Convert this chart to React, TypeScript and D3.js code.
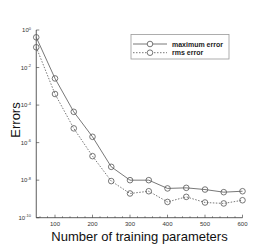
import React from "react";
import * as d3 from "d3";

const params = [50, 100, 150, 200, 250, 300, 350, 400, 450, 500, 550, 600];
const maxErrorExp = [-0.39, -2.58, -4.36, -5.69, -7.29, -8.0, -8.0, -8.44, -8.41, -8.5, -8.64, -8.59];
const rmsErrorExp = [-0.92, -3.41, -5.24, -6.72, -8.05, -8.71, -8.59, -9.16, -8.89, -9.19, -9.24, -9.07];
const xTicks = [100, 200, 300, 400, 500, 600];
const yTickExps = [0, -2, -4, -6, -8, -10];
const seriesNames = ["maximum error", "rms error"];

export default function App() {
  const W = 277, H = 246;
  const x = d3.scaleLinear().domain([50, 600]).range([36.25, 242.5]);
  const y = d3.scaleLog().domain([1e-10, 1]).range([217.7, 30]);
  const maxData = params.map((p, i) => [p, Math.pow(10, maxErrorExp[i])] as [number, number]);
  const rmsData = params.map((p, i) => [p, Math.pow(10, rmsErrorExp[i])] as [number, number]);
  const line = d3.line<[number, number]>().x(d => x(d[0])).y(d => y(d[1]));
  const minorX = d3.range(60, 600, 20).filter(v => v % 100 !== 0);
  const col = "#555";
  const series = [
    { data: maxData, dash: undefined as string | undefined },
    { data: rmsData, dash: "1.5,1.5" },
  ];
  const y0 = y(1e-10);
  return (
    <svg width={W} height={H} style={{ position: "absolute", left: 0, top: 0, background: "#fff" }}
      fontFamily="Liberation Sans, Arial, sans-serif">
      {/* axes */}
      <line x1={x(50)} x2={x(600)} y1={y0} y2={y0} stroke="#333" strokeWidth={0.8} />
      <line x1={x(50)} x2={x(50)} y1={y(1)} y2={y0} stroke="#333" strokeWidth={0.8} />
      {xTicks.map(t => (
        <g key={t}>
          <line x1={x(t)} x2={x(t)} y1={y0} y2={y0 - 3} stroke="#333" strokeWidth={0.6} />
          <text x={x(t)} y={y0 + 8.5} fontSize={6} textAnchor="middle" fill="#333">{t}</text>
        </g>
      ))}
      {minorX.map(t => (
        <line key={t} x1={x(t)} x2={x(t)} y1={y0} y2={y0 - 1.5} stroke="#333" strokeWidth={0.5} />
      ))}
      {yTickExps.map(e => (
        <g key={e}>
          <line x1={x(50)} x2={x(50) + 3} y1={y(Math.pow(10, e))} y2={y(Math.pow(10, e))} stroke="#333" strokeWidth={0.6} />
          <text x={31} y={y(Math.pow(10, e)) + 2} fontSize={6} textAnchor="end" fill="#333">
            10<tspan fontSize={4} dy={-2.5}>{e}</tspan>
          </text>
        </g>
      ))}
      {/* series */}
      {series.map((s, i) => (
        <g key={i}>
          <path d={line(s.data) || ""} fill="none" stroke={col} strokeWidth={0.8} strokeDasharray={s.dash} />
          {s.data.map((d, j) => (
            <circle key={j} cx={x(d[0])} cy={y(d[1])} r={2.8} fill="none" stroke={col} strokeWidth={0.8} />
          ))}
        </g>
      ))}
      {/* legend */}
      <rect x={131} y={34.5} width={98} height={24.5} fill="#fff" stroke="#999" strokeWidth={0.8} />
      {seriesNames.map((n, i) => {
        const ly = 44 + i * 8.7;
        return (
          <g key={n}>
            <line x1={133} x2={167} y1={ly} y2={ly} stroke={col} strokeWidth={0.8} strokeDasharray={series[i].dash} />
            <circle cx={150} cy={ly} r={2.8} fill="#fff" stroke={col} strokeWidth={0.8} />
            <text x={172} y={ly + 2.5} fontSize={7} fontWeight="bold" fill="#222">{n}</text>
          </g>
        );
      })}
      {/* axis titles */}
      <text x={139.5} y={240.5} fontSize={13} textAnchor="middle" fill="#111">Number of training parameters</text>
      <text transform="translate(19.5,120) rotate(-90)" fontSize={13} textAnchor="middle" fill="#111">Errors</text>
    </svg>
  );
}
